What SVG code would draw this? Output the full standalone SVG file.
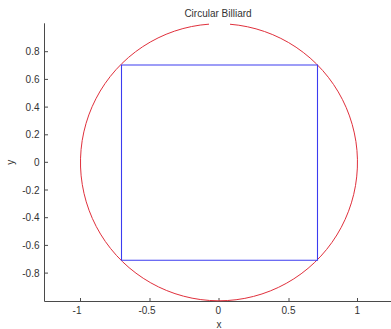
<svg xmlns="http://www.w3.org/2000/svg" width="391" height="329" viewBox="0 0 391 329">
<style>
text{font-family:"Liberation Sans",Arial,sans-serif;font-size:10px;fill:#333}
.ax{stroke:#4a4a4a;stroke-width:1;fill:none}
.yt{text-anchor:end}
.xt{text-anchor:middle}
</style>
<rect width="391" height="329" fill="#fff"/>
<g id="axes">
<path class="ax" d="M44.5,23.3V301.5H391"/>
<path class="ax" d="M44.5,51.7h3.5M44.5,79.4h3.5M44.5,107.1h3.5M44.5,134.8h3.5M44.5,162.3h3.5M44.5,190h3.5M44.5,217.7h3.5M44.5,245.4h3.5M44.5,273.1h3.5"/>
<path class="ax" d="M80.5,301.5v-3.5M150,301.5v-3.5M219,301.5v-3.5M289,301.5v-3.5M357.5,301.5v-3.5"/>
</g>
<g id="yticks">
<text class="yt" x="39.5" y="55.3">0.8</text>
<text class="yt" x="39.5" y="83">0.6</text>
<text class="yt" x="39.5" y="110.7">0.4</text>
<text class="yt" x="39.5" y="138.4">0.2</text>
<text class="yt" x="39.5" y="165.9">0</text>
<text class="yt" x="39.5" y="193.6">-0.2</text>
<text class="yt" x="39.5" y="221.3">-0.4</text>
<text class="yt" x="39.5" y="249">-0.6</text>
<text class="yt" x="39.5" y="276.7">-0.8</text>
</g>
<g id="xticks">
<text class="xt" x="77" y="313.8">-1</text>
<text class="xt" x="147" y="313.8">-0.5</text>
<text class="xt" x="218.2" y="313.8">0</text>
<text class="xt" x="288.5" y="313.8">0.5</text>
<text class="xt" x="357.3" y="313.8">1</text>
</g>
<g id="labels">
<text class="xt" x="218" y="17">Circular Billiard</text>
<text class="xt" x="219" y="328.3">x</text>
<text class="xt" transform="translate(13.5,162.3) rotate(-90)">y</text>
</g>
<g id="plot">
<path id="circle" d="M230,24.24A138.5,138.5 0 1 1 209,24.16" fill="none" stroke="#e0303c" stroke-width="1"/>
<path id="square" d="M121.5,65H317.5V260.2H121.5Z" fill="none" stroke="#3c3cf0" stroke-width="1.1"/>
</g>
</svg>
